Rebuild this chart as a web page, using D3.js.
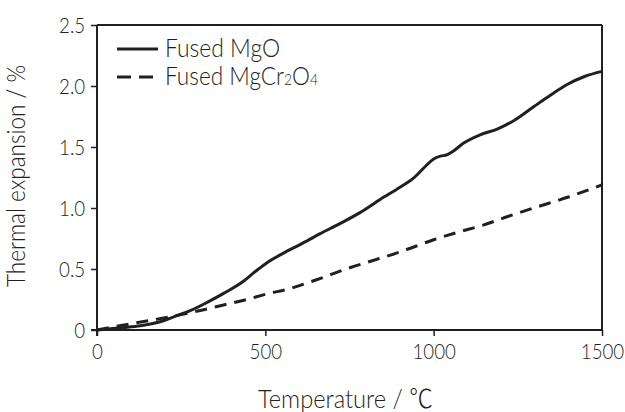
<!DOCTYPE html>
<html><head><meta charset="utf-8">
<script src="https://cdn.jsdelivr.net/npm/d3@7"></script>
<style>
body{margin:0;background:#fff;}
text{font-family:Lato,Roboto,"Noto Sans",sans-serif;fill:#231f20;font-weight:300;}
</style></head><body>
<svg id="c" width="625" height="412"></svg>
<script>
const xTicks = [0, 500, 1000, 1500];
const yTicks = [0, 0.5, 1.0, 1.5, 2.0, 2.5];
const yTickLabels = ["0", "0.5", "1.0", "1.5", "2.0", "2.5"];
const mgoT = [0, 40, 80, 129, 188, 240, 277, 330, 376, 435, 475, 504, 554, 603, 663, 720, 780, 841, 900, 940, 975, 999, 1020, 1039, 1060, 1088, 1138, 1187, 1240, 1297, 1350, 1395, 1450, 1500];
const mgoV = [0, 0.01, 0.02, 0.035, 0.068, 0.12, 0.158, 0.23, 0.30, 0.40, 0.49, 0.55, 0.63, 0.70, 0.79, 0.87, 0.96, 1.07, 1.17, 1.245, 1.34, 1.40, 1.425, 1.435, 1.47, 1.53, 1.60, 1.645, 1.72, 1.83, 1.93, 2.01, 2.08, 2.12];
const spinelT = [0, 39, 108, 178, 237, 307, 376, 445, 504, 574, 650, 751, 820, 900, 1000, 1070, 1147, 1220, 1297, 1400, 1500];
const spinelV = [0, 0.02, 0.055, 0.088, 0.12, 0.16, 0.205, 0.25, 0.295, 0.34, 0.41, 0.51, 0.57, 0.64, 0.74, 0.80, 0.86, 0.93, 1.0, 1.09, 1.19];
const seriesNames = ["Fused MgO", "Fused MgCr₂O₄"];

const svg = d3.select("#c");
const m = {l: 97, r: 602, t: 25, b: 330};
const x = d3.scaleLinear().domain([0, 1500]).range([m.l, m.r]);
const y = d3.scaleLinear().domain([0, 2.5]).range([m.b, m.t]);
const ink = "#231f20";
const FF = 'Lato,Roboto,"Noto Sans",sans-serif';

svg.append("line").attr("x1", m.l).attr("x2", m.r).attr("y1", m.t).attr("y2", m.t).attr("stroke", ink).attr("stroke-width", 2);
svg.append("line").attr("x1", m.r).attr("x2", m.r).attr("y1", m.t).attr("y2", m.b).attr("stroke", ink).attr("stroke-width", 2);

const xa = svg.append("g").attr("transform", `translate(0,${m.b})`)
  .call(d3.axisBottom(x).tickValues(xTicks).tickSize(6).tickPadding(7).tickFormat(d3.format("d")));
const ya = svg.append("g").attr("transform", `translate(${m.l},0)`)
  .call(d3.axisLeft(y).tickValues(yTicks).tickSize(6).tickPadding(8).tickFormat((d, i) => yTickLabels[i]));
[xa, ya].forEach(a => {
  a.select(".domain").attr("stroke", ink).attr("stroke-width", 2);
  a.selectAll(".tick line").attr("stroke", ink).attr("stroke-width", 1.5);
  a.selectAll(".tick text").attr("font-size", 22).attr("font-weight", 300).attr("fill", ink)
    .style("font-family", FF).attr("transform", "scale(0.85,1)");
});
xa.select(".domain").attr("d", `M${m.l - 6},0H${m.r}`);
ya.select(".domain").attr("d", `M0,${m.t}V${m.b + 6}`);

const line = d3.line().x(d => x(d[0])).y(d => y(d[1])).curve(d3.curveMonotoneX);
svg.append("path").datum(mgoT.map((t, i) => [t, mgoV[i]])).attr("d", line)
  .attr("fill", "none").attr("stroke", ink).attr("stroke-width", 3);
svg.append("path").datum(spinelT.map((t, i) => [t, spinelV[i]])).attr("d", line)
  .attr("fill", "none").attr("stroke", ink).attr("stroke-width", 3).attr("stroke-dasharray", "12,8");

// legend
svg.append("line").attr("x1", 117).attr("x2", 158).attr("y1", 49).attr("y2", 49).attr("stroke", ink).attr("stroke-width", 3);
svg.append("line").attr("x1", 117).attr("x2", 158).attr("y1", 77).attr("y2", 77).attr("stroke", ink).attr("stroke-width", 3).attr("stroke-dasharray", "14,8");
svg.append("text").attr("x", 165).attr("y", 57).attr("font-size", 26)
  .attr("textLength", 115).attr("lengthAdjust", "spacingAndGlyphs").text(seriesNames[0]);
const t2 = svg.append("text").attr("x", 165).attr("y", 85).attr("font-size", 26)
  .attr("textLength", 153).attr("lengthAdjust", "spacingAndGlyphs");
t2.append("tspan").text("Fused MgCr");
t2.append("tspan").attr("font-size", 16).text("2");
t2.append("tspan").text("O");
t2.append("tspan").attr("font-size", 16).text("4");

// axis titles
const xt = svg.append("text").attr("x", 258).attr("y", 408).attr("font-size", 26)
  .attr("textLength", 175).attr("lengthAdjust", "spacingAndGlyphs");
xt.append("tspan").text("Temperature / ");
xt.append("tspan").style("font-family", '"Noto Sans CJK JP"').text("℃");
svg.append("text").attr("transform", "translate(25,176) rotate(-90)").attr("text-anchor", "middle").attr("font-size", 26)
  .attr("textLength", 222).attr("lengthAdjust", "spacingAndGlyphs").text("Thermal expansion / %");
</script></body></html>
